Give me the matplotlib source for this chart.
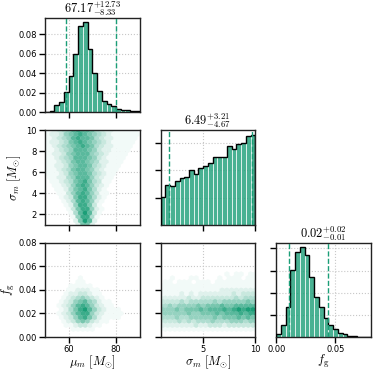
import numpy as np
import matplotlib
matplotlib.use("Agg")
import matplotlib.pyplot as plt
from matplotlib.colors import LinearSegmentedColormap, PowerNorm

plt.rcParams["mathtext.fontset"] = "cm"
plt.rcParams["font.family"] = "DejaVu Sans"

# ---- 1D marginals (density per bin), 20 bins each ----
mu_edges = np.linspace(50, 90, 21)
mu_hist = [0.0007, 0.0017, 0.007, 0.0103, 0.0204, 0.037, 0.0593, 0.0887, 0.092, 0.0645,
           0.0404, 0.0214, 0.0117, 0.0083, 0.006, 0.0031, 0.0024, 0.002, 0.0014, 0.001]

sigma_edges = np.linspace(1, 10, 21)
sigma_hist = [0.051, 0.073, 0.071, 0.080, 0.086, 0.088, 0.100, 0.094, 0.104, 0.108,
              0.114, 0.124, 0.124, 0.124, 0.146, 0.139, 0.148, 0.150, 0.164, 0.166]

fg_edges = np.linspace(0, 0.08, 21)
fg_hist = [1.2, 5.5, 13.4, 30.2, 38.6, 40.6, 37.1, 27.2, 18.0, 13.4,
           8.5, 5.5, 3.5, 2.0, 1.2, 0.6, 0.3, 0.15, 0.1, 0.05]

# median, minus, plus and the dashed interval bounds
mu_summary = (67.17, 8.33, 12.73)
mu_bounds = (58.84, 79.90)
sigma_summary = (6.49, 4.67, 3.21)
sigma_bounds = (1.82, 9.70)
fg_summary = (0.02, 0.01, 0.02)
fg_bounds = (0.0105, 0.0435)

# ---- 2D densities, one digit (0-9) per hexagon, rows bottom to top ----
# odd rows sit half a hexagon to the right
mu_sigma_hex = [
    "000000026620000000000",
    "000000269720000000000",
    "000000158841000000000",
    "000001479731000000000",
    "000001368852100000000",
    "000012588631000000000",
    "000012478752100000000",
    "000123688642100000000",
    "000113578753110000000",
    "001124678642100000000",
    "001123578753210000000",
    "011234678643110000000",
    "011224577753211000000",
    "111235677643211000000",
    "111234677653211100000",
    "112235677643211100000",
    "111234677654221110000",
    "112345777653211110000",
    "112235677754321111000",
    "112345777653221111000",
    "112345678764322111100",
    "122346787654321111100",
    "112345787764322111110",
    "122356787654321111110",
    "112345787764322111110",
]

mu_fg_hex = [
    "0",
    "0",
    "000000111110000000000",
    "000011233211000000000",
    "000012356532110000000",
    "000123578642111100000",
    "000123578853211110000",
    "000124689753211100000",
    "000123578753211000000",
    "000123567542110000000",
    "000012345432100000000",
    "000012233211000000000",
    "000001122211000000000",
    "000001111100000000000",
    "000000011000000000000",
    "000000010000000000000",
]

sigma_fg_hex = [
    "0",
    "0",
    "11111 11111 11111 11111 1",
    "22222 22322 33323 33333",
    "33334 34344 45444 55545 5",
    "44454 45555 56566 67676",
    "45555 56556 66767 77878 8",
    "55565 66676 77787 89899",
    "44545 55565 66676 67777 7",
    "33334 34444 45455 55565",
    "22222 23223 33333 34344 4",
    "11112 12122 22222 32333",
    "11111 11111 11122 22222 2",
    "11111 11111 11111 11111",
    "01101 11011 10111 11111 1",
    "00100 01100 00101 11011",
    "00000 00000 00001 01101 1",
]

mu_lim = (50, 90)
sigma_lim = (1, 10)
fg_lim = (0, 0.08)
grid = (20, 12)

base = "#1b9e77"
cmap = LinearSegmentedColormap.from_list("wg", ["white", base])


def hex_points(rows, xlim, ylim):
    sx = (xlim[1] - xlim[0]) / grid[0]
    sy = (ylim[1] - ylim[0]) / grid[1]
    xs, ys, cs = [], [], []
    for r, row in enumerate(rows):
        for c, ch in enumerate(row.replace(" ", "")):
            if ch == "0":
                continue
            xs.append(xlim[0] + (c + 0.5 * (r % 2)) * sx)
            ys.append(ylim[0] + r * sy / 2)
            cs.append(int(ch))
    return xs, ys, cs


def draw_hex(ax, rows, xlim, ylim):
    x, y, c = hex_points(rows, xlim, ylim)
    ax.hexbin(x, y, C=c, gridsize=grid, extent=(*xlim, *ylim),
              reduce_C_function=np.sum, cmap=cmap,
              norm=PowerNorm(1.3, vmin=0, vmax=9),
              linewidths=0.2, edgecolors="face", zorder=2)
    ax.set_xlim(xlim)
    ax.set_ylim(ylim)


def draw_hist(ax, edges, heights, bounds, summary, xlim):
    ax.bar(edges[:-1], heights, width=np.diff(edges), align="edge",
           color=base, alpha=0.8, edgecolor="white", linewidth=0.6, zorder=2)
    ax.stairs(heights, edges, color="k", linewidth=1.0, zorder=3)
    for b in bounds:
        ax.axvline(b, color=base, ls="--", lw=1.0, zorder=4)
    med, lo, hi = summary
    ax.set_title(f"${med:.2f}^{{+{hi:.2f}}}_{{-{lo:.2f}}}$", fontsize=9, pad=1.5)
    ax.set_xlim(xlim)
    ax.set_ylim(0, 1.05 * max(heights))


fig = plt.figure(figsize=(3.74, 3.72), dpi=100)
gs = fig.add_gridspec(3, 3, left=0.12, right=0.992, bottom=0.094, top=0.952,
                      wspace=0.22, hspace=0.19)
ax = {}
for i in range(3):
    for j in range(i + 1):
        a = fig.add_subplot(gs[i, j])
        a.set_axisbelow(True)
        a.grid(True, ls=":", color="#c8c8c8", lw=0.8)
        a.tick_params(direction="out", length=4, width=1, labelsize=6, pad=2)
        for s in a.spines.values():
            s.set_linewidth(1.0)
            s.set_color("#222222")
        ax[i, j] = a

draw_hist(ax[0, 0], mu_edges, mu_hist, mu_bounds, mu_summary, mu_lim)
draw_hist(ax[1, 1], sigma_edges, sigma_hist, sigma_bounds, sigma_summary, sigma_lim)
draw_hist(ax[2, 2], fg_edges, fg_hist, fg_bounds, fg_summary, fg_lim)
draw_hex(ax[1, 0], mu_sigma_hex, mu_lim, sigma_lim)
draw_hex(ax[2, 0], mu_fg_hex, mu_lim, fg_lim)
draw_hex(ax[2, 1], sigma_fg_hex, sigma_lim, fg_lim)

mu_ticks = [60, 80]
sigma_ticks_y = [2, 4, 6, 8, 10]
sigma_ticks_x = [5, 10]
fg_ticks_y = [0.0, 0.02, 0.04, 0.06, 0.08]
fg_ticks_x = [0.0, 0.05]

ax[0, 0].set_yticks([0.0, 0.02, 0.04, 0.06, 0.08])
ax[0, 0].set_yticklabels(["0.00", "0.02", "0.04", "0.06", "0.08"])
ax[0, 0].set_xticks(mu_ticks)
ax[0, 0].set_xticklabels([])

ax[1, 0].set_xticks(mu_ticks)
ax[1, 0].set_xticklabels([])
ax[1, 0].set_yticks(sigma_ticks_y)
ax[1, 0].set_ylabel(r"$\sigma_m\ [M_{\odot}]$", fontsize=9, labelpad=2)

ax[1, 1].set_xticks(sigma_ticks_x)
ax[1, 1].set_xticklabels([])
ax[1, 1].set_yticks([0.05, 0.10, 0.15])
ax[1, 1].set_yticklabels([])

ax[2, 0].set_xticks(mu_ticks)
ax[2, 0].set_yticks(fg_ticks_y)
ax[2, 0].set_yticklabels(["0.00", "0.02", "0.04", "0.06", "0.08"])
ax[2, 0].set_xlabel(r"$\mu_m\ [M_{\odot}]$", fontsize=9, labelpad=-1)
ax[2, 0].set_ylabel(r"$f_{\rm g}$", fontsize=9, labelpad=1)

ax[2, 1].set_xticks(sigma_ticks_x)
ax[2, 1].set_yticks(fg_ticks_y)
ax[2, 1].set_yticklabels([])
ax[2, 1].set_xlabel(r"$\sigma_m\ [M_{\odot}]$", fontsize=9, labelpad=-1)

ax[2, 2].set_xticks(fg_ticks_x)
ax[2, 2].set_xticklabels(["0.00", "0.05"])
ax[2, 2].set_yticks([10, 20, 30, 40])
ax[2, 2].set_yticklabels([])
ax[2, 2].set_xlabel(r"$f_{\rm g}$", fontsize=9, labelpad=-1)

fig.savefig("out.png", dpi=100)
